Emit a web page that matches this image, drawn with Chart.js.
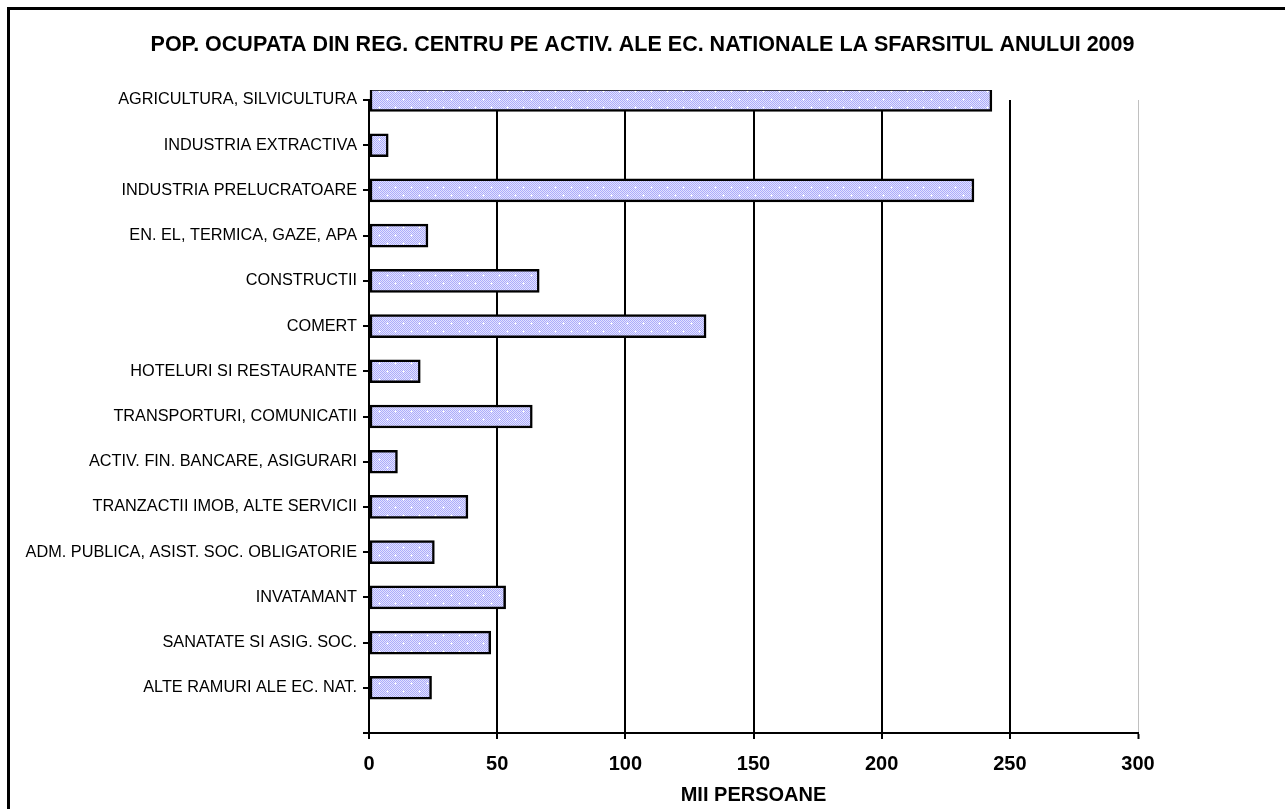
<!DOCTYPE html>
<html>
<head>
<meta charset="utf-8">
<script src="https://cdn.jsdelivr.net/npm/chart.js@4/dist/chart.umd.min.js"></script>
<style>
  html, body { margin: 0; padding: 0; background: #fff; }
  #wrap { position: relative; width: 1285px; height: 809px; overflow: hidden; }
  #frame { position: absolute; left: 7px; top: 7px; width: 1400px; height: 900px;
           border-left: 3px solid #000; border-top: 3px solid #000; box-sizing: border-box; pointer-events: none; }
  canvas { position: absolute; left: 0; top: 0; }
</style>
</head>
<body>
<div id="wrap">
  <canvas id="c" width="1285" height="809"></canvas>
  <div id="frame"></div>
</div>
<script>
const chartTitle = 'POP. OCUPATA DIN REG. CENTRU PE ACTIV. ALE EC. NATIONALE LA SFARSITUL ANULUI 2009';
const axisTitle = 'MII PERSOANE';
const categories = [
  'AGRICULTURA, SILVICULTURA',
  'INDUSTRIA EXTRACTIVA',
  'INDUSTRIA PRELUCRATOARE',
  'EN. EL, TERMICA, GAZE, APA',
  'CONSTRUCTII',
  'COMERT',
  'HOTELURI SI RESTAURANTE',
  'TRANSPORTURI, COMUNICATII',
  'ACTIV. FIN. BANCARE, ASIGURARI',
  'TRANZACTII IMOB, ALTE SERVICII',
  'ADM. PUBLICA, ASIST. SOC. OBLIGATORIE',
  'INVATAMANT',
  'SANATATE SI ASIG. SOC.',
  'ALTE RAMURI ALE EC. NAT.'
];
const values = [243, 7.5, 236, 23, 66.4, 131.5, 20, 63.7, 11.1, 38.6, 25.5, 53.3, 47.5, 24.4];
const xTicks = [0, 50, 100, 150, 200, 250, 300];

// dotted lavender fill pattern
function makePattern() {
  const t = document.createElement('canvas');
  t.width = 16; t.height = 16;
  const g = t.getContext('2d');
  for (let y = 0; y < 16; y++) {
    for (let x = 0; x < 16; x++) {
      g.fillStyle = ((x + y) % 2 === 0) ? 'rgb(172,172,250)' : 'rgb(226,226,255)';
      g.fillRect(x, y, 1, 1);
    }
  }
  const sparkle = (cx, cy) => {
    g.fillStyle = '#ffffff';
    g.fillRect(cx, cy, 1, 1);
    g.fillStyle = 'rgb(244,244,255)';
    g.fillRect(cx - 1, cy, 1, 1); g.fillRect(cx + 1, cy, 1, 1);
    g.fillRect(cx, cy - 1, 1, 1); g.fillRect(cx, cy + 1, 1, 1);
  };
  sparkle(3, 3);
  sparkle(11, 11);
  return t.getContext('2d').createPattern(t, 'repeat');
}
const pattern = makePattern();

const FONT = '"Liberation Sans", Arial, sans-serif';

new Chart(document.getElementById('c'), {
  type: 'bar',
  data: {
    datasets: [{
      data: values.map((v, i) => ({ x: v, y: i })),
      backgroundColor: pattern,
      borderColor: '#000',
      borderWidth: 2.5,
      borderSkipped: false,
      barThickness: 23,
      clip: { left: 5, top: 10, right: 5, bottom: 5 }
    }]
  },
  options: {
    indexAxis: 'y',
    responsive: false,
    animation: false,
    layout: { padding: 0 },
    plugins: {
      legend: { display: false },
      tooltip: { enabled: false },
      title: {
        display: true,
        text: chartTitle,
        color: '#000',
        font: { family: FONT, size: 21.5, weight: 'bold', lineHeight: 1.2 },
        padding: { top: 32, bottom: 42.2 }
      }
    },
    scales: {
      x: {
        type: 'linear',
        position: 'bottom',
        min: 0, max: 300,
        afterBuildTicks: (s) => { s.ticks = xTicks.map(v => ({ value: v })); },
        afterFit: (s) => { s.height = 76; },
        ticks: {
          color: '#000',
          font: { family: FONT, size: 20, weight: 'bold' },
          padding: 13,
          maxRotation: 0
        },
        grid: {
          color: (ctx) => (ctx.tick && ctx.tick.value === 300) ? '#c0c0c0' : '#000',
          lineWidth: (ctx) => (ctx.tick && ctx.tick.value === 300) ? 1 : 2,
          drawTicks: true,
          tickLength: 6,
          tickColor: '#000',
          tickWidth: 2
        },
        border: { display: true, color: '#000', width: 2 },
        title: {
          display: true,
          text: axisTitle,
          color: '#000',
          font: { family: FONT, size: 20, weight: 'bold', lineHeight: 1.2 },
          padding: { top: 0, bottom: 2 }
        }
      },
      y: {
        type: 'linear',
        reverse: true,
        offset: false,
        min: 0, max: 14,
        afterBuildTicks: (s) => { s.ticks = categories.map((c, i) => ({ value: i })).concat([{ value: 14 }]); },
        afterFit: (s) => { s.width = 369; },
        ticks: {
          color: '#000',
          font: { family: FONT, size: 16.3 },
          padding: 6,
          autoSkip: false,
          callback: (v) => categories[v] !== undefined ? categories[v] : ''
        },
        grid: {
          offset: false,
          drawOnChartArea: false,
          drawTicks: true,
          tickLength: 6,
          color: '#000',
          lineWidth: 2
        },
        border: { display: true, color: '#000', width: 2 }
      },
      yRight: {
        type: 'linear',
        position: 'right',
        display: true,
        min: 0, max: 1,
        afterFit: (s) => { s.width = 147; },
        ticks: { display: false },
        grid: { display: false, drawTicks: false },
        border: { display: false }
      }
    }
  }
});
</script>
</body>
</html>
